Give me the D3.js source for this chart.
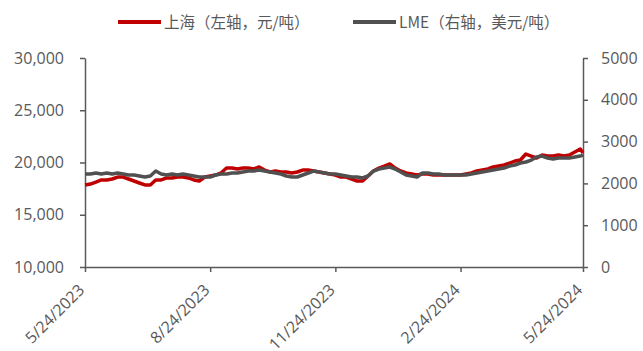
<!DOCTYPE html>
<html>
<head>
<meta charset="utf-8">
<script src="https://cdn.jsdelivr.net/npm/d3@7/dist/d3.min.js"></script>
<style>
  html, body { margin: 0; padding: 0; background: #ffffff; }
  svg { display: block; }
  .tick text { fill: #595959; }
</style>
</head>
<body>
<svg id="chart" width="643" height="351"></svg>
<script>
// Trading dates (sampled every 4 days)
const dates = [
  "2023-05-24","2023-05-28","2023-06-01","2023-06-05","2023-06-09","2023-06-13","2023-06-17","2023-06-21","2023-06-25","2023-06-29",
  "2023-07-03","2023-07-07","2023-07-11","2023-07-15","2023-07-19","2023-07-23","2023-07-27","2023-07-31","2023-08-04","2023-08-08",
  "2023-08-12","2023-08-16","2023-08-20","2023-08-24","2023-08-28","2023-09-01","2023-09-05","2023-09-09","2023-09-13","2023-09-17",
  "2023-09-21","2023-09-25","2023-09-29","2023-10-03","2023-10-07","2023-10-11","2023-10-15","2023-10-19","2023-10-23","2023-10-27",
  "2023-10-31","2023-11-04","2023-11-08","2023-11-12","2023-11-16","2023-11-20","2023-11-24","2023-11-28","2023-12-02","2023-12-06",
  "2023-12-10","2023-12-14","2023-12-18","2023-12-22","2023-12-26","2023-12-30","2024-01-03","2024-01-07","2024-01-11","2024-01-15",
  "2024-01-19","2024-01-23","2024-01-27","2024-01-31","2024-02-04","2024-02-08","2024-02-12","2024-02-16","2024-02-20","2024-02-24",
  "2024-02-28","2024-03-03","2024-03-07","2024-03-11","2024-03-15","2024-03-19","2024-03-23","2024-03-27","2024-03-31","2024-04-04",
  "2024-04-08","2024-04-12","2024-04-16","2024-04-20","2024-04-24","2024-04-28","2024-05-02","2024-05-06","2024-05-10","2024-05-14",
  "2024-05-18","2024-05-22","2024-05-24"
];

// 上海 (元/吨), left axis
const shanghai = [
  17850,17940,18130,18330,18330,18420,18610,18610,18420,18230,
  18040,17850,17850,18330,18330,18520,18520,18610,18610,18520,
  18330,18230,18610,18710,18800,19000,19470,19470,19380,19470,
  19470,19380,19570,19280,19090,19190,19090,19090,19000,19090,
  19280,19280,19190,19090,19000,18900,18800,18610,18610,18420,
  18230,18230,18710,19190,19470,19660,19860,19470,19190,19000,
  18900,18800,18900,18900,18800,18800,18800,18800,18800,18800,
  18900,19000,19190,19280,19380,19570,19660,19760,19950,20140,
  20240,20810,20620,20430,20720,20620,20620,20720,20620,20720,
  21000,21290,20910
];

// LME (美元/吨), right axis
const lme = [
  2225,2225,2249,2225,2249,2225,2249,2225,2201,2201,
  2177,2153,2177,2296,2225,2201,2225,2201,2225,2201,
  2177,2153,2153,2153,2201,2225,2225,2249,2249,2272,
  2296,2296,2320,2296,2272,2249,2225,2177,2153,2153,
  2201,2249,2296,2272,2249,2225,2225,2201,2177,2153,
  2153,2129,2177,2296,2344,2368,2392,2344,2272,2201,
  2177,2153,2249,2249,2225,2225,2201,2201,2201,2201,
  2201,2225,2249,2272,2296,2320,2344,2368,2416,2440,
  2488,2512,2559,2631,2655,2607,2583,2607,2607,2607,
  2631,2655,2679
];

const xTickDates = ["2023-05-24","2023-08-24","2023-11-24","2024-02-24","2024-05-24"];
const leftTicks = [10000, 15000, 20000, 25000, 30000];
const rightTicks = [0, 1000, 2000, 3000, 4000, 5000];
const seriesNames = ["上海（左轴，元/吨）", "LME（右轴，美元/吨）"];
const seriesColors = ["#C00000", "#505050"];

const parse = d3.timeParse("%Y-%m-%d");
const svg = d3.select("#chart");
const axisColor = "#595959";
const tickFont = "'Open Sans', 'Noto Sans', sans-serif";

const x = d3.scaleTime()
  .domain([parse(xTickDates[0]), parse(xTickDates[xTickDates.length - 1])])
  .range([85, 583]);
const yL = d3.scaleLinear().domain([10000, 30000]).range([267, 58]);
const yR = d3.scaleLinear().domain([0, 5000]).range([267, 58]);

function styleAxis(g) {
  g.select(".domain").attr("stroke", axisColor).attr("stroke-width", 1.5);
  g.selectAll(".tick line").attr("stroke", axisColor).attr("stroke-width", 1.5);
  g.selectAll(".tick text")
    .attr("font-family", tickFont)
    .attr("font-size", 16)
    .attr("fill", axisColor);
}

// Left axis
svg.append("g")
  .attr("transform", "translate(85,0)")
  .call(d3.axisLeft(yL).tickValues(leftTicks).tickFormat(d3.format(",")).tickSize(5).tickSizeOuter(0).tickPadding(16))
  .call(styleAxis);

// Right axis
svg.append("g")
  .attr("transform", "translate(583,0)")
  .call(d3.axisRight(yR).tickValues(rightTicks).tickFormat(d3.format("d")).tickSize(5).tickSizeOuter(0).tickPadding(13))
  .call(styleAxis);

// Bottom axis with rotated date labels
const xAxis = svg.append("g")
  .attr("transform", "translate(0,267)")
  .call(d3.axisBottom(x).tickValues(xTickDates.map(parse)).tickFormat(d3.timeFormat("%-m/%-d/%Y")).tickSize(5).tickSizeOuter(0))
  .call(styleAxis);
xAxis.selectAll(".tick text")
  .attr("text-anchor", "end")
  .attr("dy", 0)
  .attr("y", 0)
  .attr("transform", "translate(0,24) rotate(-45)");

// Series lines
const lineL = d3.line().x((d, i) => x(parse(dates[i]))).y(d => yL(d));
const lineR = d3.line().x((d, i) => x(parse(dates[i]))).y(d => yR(d));

svg.append("path")
  .datum(shanghai)
  .attr("fill", "none")
  .attr("stroke", seriesColors[0])
  .attr("stroke-width", 3.5)
  .attr("stroke-linejoin", "round")
  .attr("d", lineL);

svg.append("path")
  .datum(lme)
  .attr("fill", "none")
  .attr("stroke", seriesColors[1])
  .attr("stroke-width", 3.5)
  .attr("stroke-linejoin", "round")
  .attr("d", lineR);

// Legend
const legendX = [118, 353];
const legend = svg.append("g");
seriesNames.forEach((name, i) => {
  legend.append("line")
    .attr("x1", legendX[i]).attr("x2", legendX[i] + 43)
    .attr("y1", 22).attr("y2", 22)
    .attr("stroke", seriesColors[i])
    .attr("stroke-width", 4);
  legend.append("text")
    .attr("x", legendX[i] + 46)
    .attr("y", 28)
    .attr("font-family", "'Noto Sans CJK SC', 'Noto Sans', sans-serif")
    .attr("font-size", 15.5)
    .attr("fill", axisColor)
    .text(name);
});
</script>
</body>
</html>
